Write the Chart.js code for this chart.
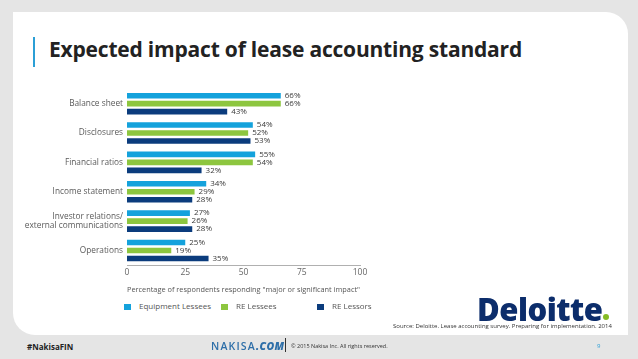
<!DOCTYPE html>
<html>
<head>
<meta charset="utf-8">
<script src="https://cdn.jsdelivr.net/npm/chart.js@4/dist/chart.umd.min.js"></script>
<style>
  html, body { margin: 0; padding: 0; }
  body { width: 638px; height: 359px; background: #e5e5e5; position: relative; overflow: hidden; font-family: "Open Sans", sans-serif; }
  #card { position: absolute; left: 13px; top: 12px; width: 615px; height: 323px; background: #fff; border-radius: 0 22px 0 22px; }
  #bar { position: absolute; left: 33px; top: 37px; width: 2px; height: 30px; background: #2b9fd6; }
  #title { position: absolute; left: 49px; top: 35px; font-size: 21px; font-weight: 700; color: #222; letter-spacing: -0.2px; white-space: nowrap; }
  #wrap { position: absolute; left: 0; top: 80px; width: 420px; height: 215px; }
  #legend { position: absolute; top: 300px; left: 124px; font-size: 8px; color: #555; }
  #legend span.item { position: absolute; white-space: nowrap; top: 0; }
  #legend i { display: inline-block; width: 7px; height: 6px; margin-right: 8px; vertical-align: -1px; }
  #logo { position: absolute; left: 477px; top: 288px; font-family: "Open Sans", sans-serif; font-weight: 800; font-size: 31px; color: #0c2d6b; letter-spacing: -0.5px; }
  #dot { position: absolute; left: 603px; top: 314px; width: 6px; height: 6px; border-radius: 50%; background: #86bc25; }
  #source { position: absolute; left: 393px; top: 322px; font-size: 6px; color: #333; white-space: nowrap; }
  #hash { position: absolute; left: 27px; top: 341px; font-size: 8px; font-weight: 700; color: #222; }
  #nakisa { position: absolute; left: 211px; top: 339px; font-size: 10.5px; font-weight: 600; color: #2d6ea8; letter-spacing: 1.2px; }
  #nakisa b { font-style: italic; font-weight: 800; letter-spacing: 0.3px; }
  #sep { position: absolute; left: 285px; top: 338px; width: 1px; height: 14px; background: #333; }
  #copy { position: absolute; left: 291px; top: 342px; font-size: 5.5px; color: #333; white-space: nowrap; }
  #page { position: absolute; left: 597px; top: 342px; font-size: 6px; color: #2b9fd6; }
</style>
</head>
<body>
<div id="card"></div>
<div id="bar"></div>
<div id="title">Expected impact of lease accounting standard</div>
<div id="wrap"><canvas id="c"></canvas></div>
<div id="legend"></div>
<div id="logo">Deloitte</div>
<div id="dot"></div>
<div id="source">Source: Deloitte. Lease accounting survey. Preparing for implementation. 2014</div>
<div id="hash">#NakisaFIN</div>
<div id="nakisa">NAKISA<b>.COM</b></div>
<div id="sep"></div>
<div id="copy">© 2015 Nakisa Inc. All rights reserved.</div>
<div id="page">9</div>
<script>
const categories = [
    "Balance sheet",
    "Disclosures",
    "Financial ratios",
    "Income statement",
    ["Investor relations/", "external communications"],
    "Operations",
];
const equipmentLessees = [66, 54, 55, 34, 27, 25];
const reLessees = [66, 52, 54, 29, 26, 19];
const reLessors = [43, 53, 32, 28, 28, 35];
const seriesNames = ["Equipment Lessees", "RE Lessees", "RE Lessors"];
const seriesColors = ["#14a2dc", "#8dc63f", "#0b3c7d"];
const xTicks = [0, 25, 50, 75, 100];
const axisTitle = "Percentage of respondents responding \"major or significant impact\"";

const FONT = "'Open Sans', sans-serif";

// percent labels just right of each bar
const valueLabels = {
    id: "valueLabels",
    afterDatasetsDraw(chart) {
        const ctx = chart.ctx;
        ctx.save();
        ctx.font = "8px " + FONT;
        ctx.fillStyle = "#3a3a3a";
        ctx.textBaseline = "middle";
        chart.data.datasets.forEach((ds, i) => {
            chart.getDatasetMeta(i).data.forEach((bar, j) => {
                ctx.fillText(ds.data[j] + "%", bar.x + 4, bar.y);
            });
        });
        ctx.restore();
    },
};

const datasets = [equipmentLessees, reLessees, reLessors].map((d, i) => ({
    label: seriesNames[i],
    data: d,
    backgroundColor: seriesColors[i],
}));

new Chart(document.getElementById("c"), {
    type: "bar",
    data: { labels: categories, datasets },
    options: {
        indexAxis: "y",
        responsive: true,
        maintainAspectRatio: false,
        animation: false,
        layout: { padding: { top: 3, right: 60, left: 0, bottom: 0 } },
        plugins: { legend: { display: false }, tooltip: { enabled: false } },
        datasets: { bar: { categoryPercentage: 0.816, barPercentage: 0.7 } },
        scales: {
            x: {
                min: 0,
                max: 100,
                afterBuildTicks(scale) {
                    scale.ticks = xTicks.map((v) => ({ value: v }));
                },
                grid: { display: false, drawTicks: false },
                border: { display: true, color: "#b0b0b0" },
                ticks: { color: "#666", font: { size: 8.5, family: FONT }, padding: 2 },
                title: {
                    display: true,
                    text: axisTitle,
                    align: "start",
                    color: "#555",
                    font: { size: 8, family: FONT },
                    padding: { top: 6, bottom: 0 },
                },
            },
            y: {
                afterFit(scale) { scale.width = 127; },
                grid: { display: false, drawTicks: false },
                border: { display: false },
                ticks: { color: "#5a5a5a", font: { size: 8.3, family: FONT }, padding: 4 },
            },
        },
    },
    plugins: [valueLabels],
});

const legend = document.getElementById("legend");
const legendX = [0, 97, 193];
seriesNames.forEach((name, i) => {
    const s = document.createElement("span");
    s.className = "item";
    s.style.left = legendX[i] + "px";
    s.innerHTML = '<i style="background:' + seriesColors[i] + '"></i>' + name;
    legend.appendChild(s);
});
</script>
</body>
</html>
